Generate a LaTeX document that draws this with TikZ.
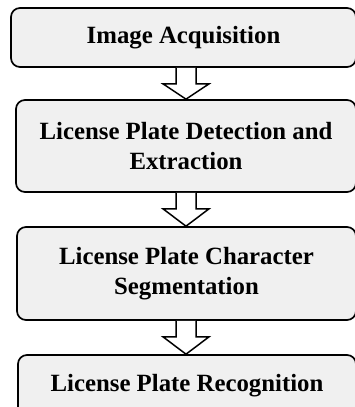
\documentclass[tikz,border=0pt]{standalone}
\usepackage{fontspec}
\setmainfont{Liberation Serif}
\usetikzlibrary{calc}
\definecolor{boxfill}{HTML}{F0F0F0}
\tikzset{
  stage/.style={draw=black, line width=1.7pt, fill=boxfill, rounded corners=9pt,
    align=center, inner sep=0pt,
    font=\fontsize{24.8}{30}\selectfont\bfseries},
  blockarr/.style={draw=black, line width=1.5pt, line join=miter, fill=white}
}
\newcommand{\blockarrow}[2]{%
  \draw[blockarr] let \p1=(#1.south -| ax), \p2=(#2.north -| ax) in
    (\x1-10pt,\y1) -- (\x1-10pt,\y1-16pt) -- (\x1-23pt,\y1-16pt) -- (\x2,\y2)
    -- (\x1+23pt,\y1-16pt) -- (\x1+10pt,\y1-16pt) -- (\x1+10pt,\y1);
}
\begin{document}
\begin{tikzpicture}[x=1pt,y=-1pt]
  \fill[white] (0,0) rectangle (354,407);
  \useasboundingbox (0,0) rectangle (354,407);
  \coordinate (ax) at (186,0);
  \node[stage, minimum width=345pt, minimum height=59pt] (b1) at (183.5,37.5) {Image Acquisition};
  \node[stage, minimum width=340pt, minimum height=92pt] (b2) at (186,146) {License Plate Detection and\\Extraction};
  \node[stage, minimum width=339pt, minimum height=93pt] (b3) at (186.5,273.5) {License Plate Character\\Segmentation};
  \node[stage, minimum width=338pt, minimum height=62pt] (b4) at (187,386) {License Plate Recognition};
  \blockarrow{b1}{b2}
  \blockarrow{b2}{b3}
  \blockarrow{b3}{b4}
\end{tikzpicture}
\end{document}
